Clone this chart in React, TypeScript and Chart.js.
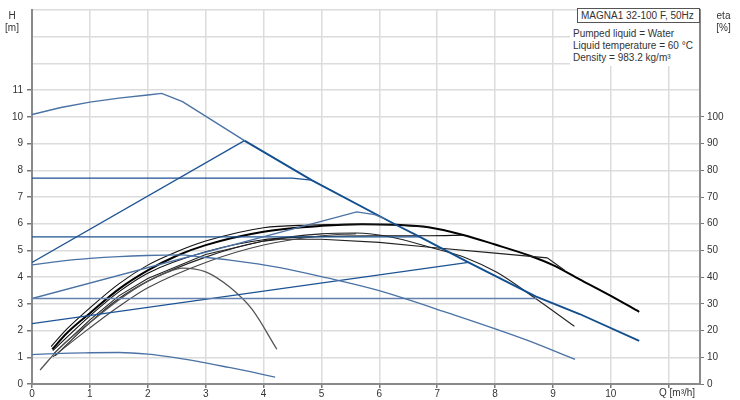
import { useEffect, useRef } from 'react';
import { Chart, registerables } from 'chart.js';

Chart.register(...registerables);

type Pt = [number, number];

// Q [m3/h] vs H [m] — pump (blue) curves
const maxCurveUpper: Pt[] = [[0, 10.09], [0.5, 10.35], [1, 10.55], [1.5, 10.7], [2, 10.82], [2.24, 10.88], [2.6, 10.57], [3.67, 9.11]];
const maxCurveLower: Pt[] = [[3.67, 9.11], [4.83, 7.63], [6.27, 5.98], [6.7, 5.51], [7.54, 4.55], [8.7, 3.28], [9.46, 2.62], [10.49, 1.61]];
const propPressureHigh: Pt[] = [[0, 4.55], [3.67, 9.11]];
const constPressureHigh: Pt[] = [[0, 7.71], [4.49, 7.71], [4.83, 7.63]];
const constPressureMid: Pt[] = [[0, 5.51], [6.7, 5.51]];
const propPressureMid: Pt[] = [[0, 3.2], [5.61, 6.44], [5.92, 6.34], [6.1, 6.18]];
const constPressureLow: Pt[] = [[0, 3.2], [8.72, 3.2]];
const propPressureLow: Pt[] = [[0, 2.26], [7.54, 4.55]];
const speedCurveMid: Pt[] = [[0, 4.46], [0.5, 4.6], [1, 4.7], [1.5, 4.77], [1.98, 4.81], [2.56, 4.83], [2.9, 4.76], [3.42, 4.64], [4.28, 4.36], [5.1, 3.97], [5.95, 3.52], [7.2, 2.65], [8.55, 1.64], [9.38, 0.92]];
const speedCurveMin: Pt[] = [[0, 1.1], [0.5, 1.15], [1, 1.17], [1.5, 1.18], [2, 1.12], [2.5, 0.98], [2.9, 0.83], [3.4, 0.62], [3.77, 0.46], [4.2, 0.26]];

// Q [m3/h] vs eta [%] — efficiency (black) curves
const etaMain: Pt[] = [[0.35, 13], [0.6, 19], [1, 26.5], [1.5, 35.5], [2, 42.5], [2.5, 48], [3, 52], [4, 57], [5, 59.2], [5.7, 59.8], [6.3, 59.6], [6.85, 58.7], [7.45, 55.8], [8, 52.2], [8.6, 48], [9, 44.5], [9.46, 39.2], [10, 33], [10.49, 27]];
const etaTop: Pt[] = [[0.33, 14], [0.6, 20.5], [1, 28.5], [1.5, 37.5], [2, 44.5], [2.5, 49.5], [3, 53.5], [4, 58.5], [4.8, 59.5], [5.5, 59.8], [6.2, 59.6], [6.85, 58.7]];
const etaFlat: Pt[] = [[0.36, 12.5], [1, 25.5], [1.5, 34.5], [2, 41.5], [3, 49.5], [4, 54], [5, 55.2], [6, 55.5], [6.87, 55.5], [7.45, 55.7]];
const etaKink: Pt[] = [[0.38, 11.5], [1, 24], [1.5, 33], [2, 39.5], [3, 48.5], [4, 53.5], [4.3, 54.2], [5, 54.2], [6, 53], [6.87, 51.2], [8, 49], [8.9, 47.2], [9.2, 42.6]];
const etaSteep: Pt[] = [[0.4, 10.5], [1, 23], [1.5, 32], [2, 38.5], [3, 47.5], [4, 53.5], [5, 56.2], [5.6, 56.5], [6.2, 55], [6.87, 51.2], [7.5, 47.2], [8.03, 41.8], [8.7, 32], [9.37, 21.6]];
const etaLow: Pt[] = [[0.36, 10.2], [1, 21], [1.5, 29], [2, 36], [3, 45.5], [4, 52], [5, 55.5], [5.6, 56.3]];
const etaMin: Pt[] = [[0.14, 5.2], [0.5, 14], [1, 23], [1.5, 31.5], [2, 38.5], [2.3, 41.5], [2.6, 43.4], [3, 42], [3.42, 36.2], [3.8, 28], [4.23, 13]];

const xTicks = [0, 1, 2, 3, 4, 5, 6, 7, 8, 9, 10];
const hTickMax = 11;
const etaTickMax = 100;

const titleText = 'MAGNA1 32-100 F, 50Hz';
const infoLines = ['Pumped liquid = Water', 'Liquid temperature = 60 °C', 'Density = 983.2 kg/m³'];

const FONT = '"Liberation Sans", Arial, sans-serif';
const DARK = '#1c5394';
const STEEL = '#4a72a5';
const LIGHT = '#6381ab';

const toXY = (a: Pt[]) => a.map(([x, y]) => ({ x, y }));

function line(data: Pt[], color: string, width: number, axis: string, smooth: boolean) {
  return {
    data: toXY(data),
    borderColor: color,
    borderWidth: width,
    pointRadius: 0,
    fill: false,
    yAxisID: axis,
    tension: smooth ? 0.4 : 0,
    cubicInterpolationMode: smooth ? ('monotone' as const) : ('default' as const),
  };
}

export default function App() {
  const ref = useRef<HTMLCanvasElement>(null);

  useEffect(() => {
    if (!ref.current) return;
    Chart.defaults.font.family = FONT;
    Chart.defaults.font.size = 10;
    const chart = new Chart(ref.current, {
      type: 'line',
      data: {
        datasets: [
          line(speedCurveMin, STEEL, 1.3, 'y', true),
          line(speedCurveMid, STEEL, 1.3, 'y', true),
          line(constPressureLow, LIGHT, 1.3, 'y', false),
          line(propPressureLow, DARK, 1.2, 'y', false),
          line(propPressureMid, STEEL, 1.3, 'y', false),
          line(constPressureMid, DARK, 1.3, 'y', false),
          line(constPressureHigh, DARK, 1.2, 'y', false),
          line(propPressureHigh, DARK, 1.2, 'y', false),
          line(maxCurveUpper, STEEL, 1.4, 'y', false),
          line(maxCurveLower, '#134f8e', 1.9, 'y', false),
          line(etaMin, '#555555', 1.3, 'y2', true),
          line(etaLow, '#444444', 1.1, 'y2', true),
          line(etaSteep, '#222222', 1.1, 'y2', true),
          line(etaKink, '#222222', 1.1, 'y2', false),
          line(etaFlat, '#111111', 1.1, 'y2', true),
          line(etaTop, '#111111', 1.1, 'y2', true),
          line(etaMain, '#000000', 2, 'y2', true),
        ],
      },
      options: {
        responsive: false,
        animation: false,
        layout: { padding: { top: 8, left: 0, right: 0, bottom: 0 } },
        plugins: { legend: { display: false }, tooltip: { enabled: false } },
        scales: {
          x: {
            type: 'linear',
            min: 0,
            max: 11.54,
            border: { color: '#8a8a8a', width: 2 },
            grid: { color: '#dcdcdc', lineWidth: 1.5, tickLength: 4, tickColor: '#777' },
            ticks: {
              stepSize: 1,
              includeBounds: false,
              autoSkip: false,
              maxRotation: 0,
              padding: 0,
              color: '#333',
              callback: (v: any) => (xTicks.includes(Number(v)) ? String(v) : ''),
            },
            afterFit: (s: any) => {
              s.height = 16;
            },
          },
          y: {
            position: 'left',
            min: 0,
            max: 14,
            border: { color: '#8a8a8a', width: 2 },
            grid: {
              color: '#dcdcdc',
              lineWidth: 1.5,
              tickLength: 5,
              tickColor: (ctx: any) => (ctx.tick && ctx.tick.value <= hTickMax ? '#777' : 'rgba(0,0,0,0)'),
            },
            ticks: {
              stepSize: 1,
              padding: 4,
              color: '#333',
              callback: (v: any) => (Number(v) <= hTickMax ? String(v) : ''),
            },
            afterFit: (s: any) => {
              s.width = 32;
            },
          },
          y2: {
            position: 'right',
            min: 0,
            max: 140,
            border: { color: '#8a8a8a', width: 2 },
            grid: { drawOnChartArea: false, tickLength: 4, tickColor: '#777' },
            ticks: {
              stepSize: 10,
              padding: 3,
              color: '#333',
              callback: (v: any) => (Number(v) <= etaTickMax ? String(v) : ''),
            },
            afterBuildTicks: (s: any) => {
              s.ticks = s.ticks.filter((t: any) => t.value <= etaTickMax);
            },
            afterFit: (s: any) => {
              s.width = 40;
            },
          },
        },
      },
    });
    return () => chart.destroy();
  }, []);

  const txt: React.CSSProperties = { position: 'absolute', fontFamily: FONT, fontSize: 10, color: '#333', lineHeight: '12px', whiteSpace: 'nowrap' };

  return (
    <div style={{ position: 'absolute', left: 0, top: 0, width: 740, height: 400, background: '#fff', overflow: 'hidden' }}>
      <canvas ref={ref} width={740} height={400} style={{ display: 'block', width: 740, height: 400 }} />
      <div style={{ ...txt, left: 2, width: 20, top: 10, textAlign: 'center' }}>
        <div>H</div>
        <div>[m]</div>
      </div>
      <div style={{ ...txt, left: 710, width: 27, top: 10, textAlign: 'center' }}>
        <div>eta</div>
        <div>[%]</div>
      </div>
      <div style={{ ...txt, left: 659, top: 387 }}>Q [m³/h]</div>
      <div style={{ ...txt, left: 570, top: 22, width: 129, height: 44, background: '#fff', paddingLeft: 3, paddingTop: 6, boxSizing: 'border-box' }}>
        {infoLines.map((l) => (
          <div key={l}>{l}</div>
        ))}
      </div>
      <div style={{ ...txt, left: 577, top: 8, width: 123, height: 15, background: '#fff', border: '1px solid #555', boxSizing: 'border-box', paddingLeft: 3, lineHeight: '13px' }}>
        {titleText}
      </div>
    </div>
  );
}
